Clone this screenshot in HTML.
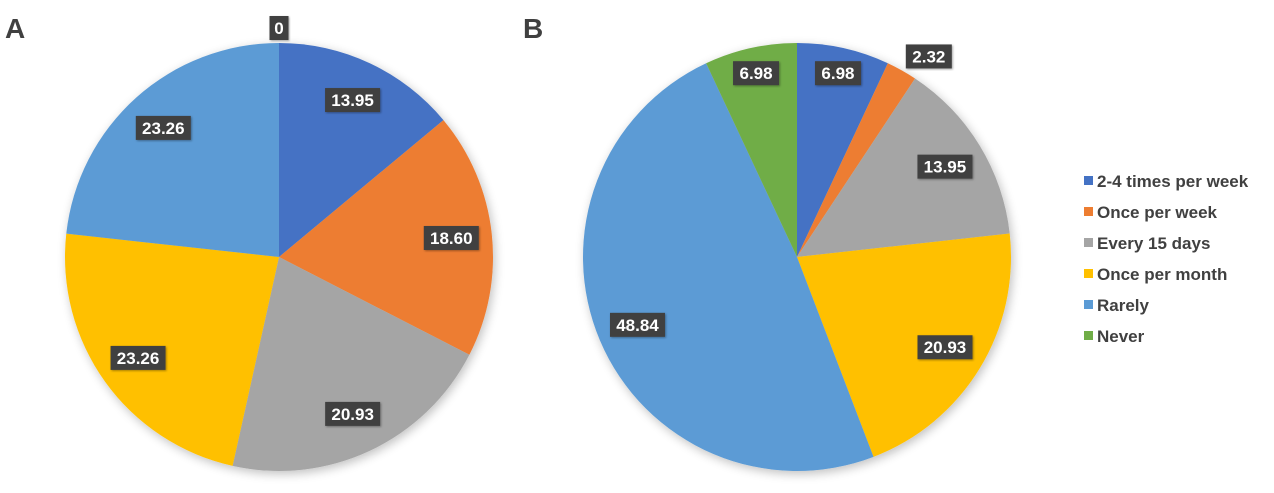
<!DOCTYPE html>
<html><head><meta charset="utf-8"><style>
body{margin:0;background:#fff;width:1274px;height:488px;overflow:hidden;font-family:"Liberation Sans",Arial,sans-serif}
</style></head><body>
<svg id="c" width="1274" height="488" xmlns="http://www.w3.org/2000/svg">
<defs><filter id="sh" x="-10%" y="-10%" width="120%" height="120%"><feGaussianBlur in="SourceAlpha" stdDeviation="5"/><feOffset dx="2" dy="3"/><feComponentTransfer><feFuncA type="linear" slope="0.25"/></feComponentTransfer><feMerge><feMergeNode/><feMergeNode in="SourceGraphic"/></feMerge></filter>
<filter id="ls"><feDropShadow dx="1" dy="1" stdDeviation="1" flood-opacity="0.35"/></filter></defs>
<text x="5" y="38" font-size="28" font-weight="bold" fill="#404040">A</text>
<text x="523" y="38" font-size="28" font-weight="bold" fill="#404040">B</text>
<g id="legend"></g>
</svg>
<script>
const categories=["2-4 times per week","Once per week","Every 15 days","Once per month","Rarely","Never"];
const colors=["#4472c4","#ed7d31","#a5a5a5","#ffc000","#5b9bd5","#70ad47"];
const valuesA=[13.95,18.60,20.93,23.26,23.26,0];
const valuesB=[6.98,2.32,13.95,20.93,48.84,6.98];
const labelsA=["13.95","18.60","20.93","23.26","23.26","0"];
const labelsB=["6.98","2.32","13.95","20.93","48.84","6.98"];
const NS="http://www.w3.org/2000/svg";
const svg=document.getElementById('c');
function pie(cx,cy,r,vals,labs,name){
  const g=document.createElementNS(NS,'g');
  
  
  g.setAttribute('filter','url(#sh)');
  svg.appendChild(g);
  const tot=vals.reduce((a,b)=>a+b,0);
  let a0=0;const lab=[];
  vals.forEach((v,i)=>{
    const a1=a0+v/tot*2*Math.PI;
    const pt=a=>[cx+r*Math.sin(a),cy-r*Math.cos(a)];
    if(v>0){
      const p=document.createElementNS(NS,'path');
      const [x0,y0]=pt(a0),[x1,y1]=pt(a1);
      p.setAttribute('d',`M${cx},${cy}L${x0},${y0}A${r},${r} 0 ${a1-a0>Math.PI?1:0} 1 ${x1},${y1}Z`);
      p.setAttribute('fill',colors[i]);
      
      
      g.appendChild(p);
    }
    const am=(a0+a1)/2;
    let d=v<3?r+26:(v<10?r*0.88:r*0.81);
    let ang=v<3&&v>0?am+0.07:am;
    if(v===0){ang=a0;d=r+15;}
    lab.push([cx+d*Math.sin(ang),cy-d*Math.cos(ang),labs[i],i]);
    a0=a1;
  });
  lab.forEach(([x,y,t,i])=>{
    const w=t.length*9+10;
    const gg=document.createElementNS(NS,'g');
    
    
    const rc=document.createElementNS(NS,'rect');
    rc.setAttribute('x',x-w/2);rc.setAttribute('y',y-12);rc.setAttribute('width',w);rc.setAttribute('height',24);
    rc.setAttribute('fill','#404040');rc.setAttribute('filter','url(#ls)');
    const tx=document.createElementNS(NS,'text');
    tx.setAttribute('x',x);tx.setAttribute('y',y+6);tx.setAttribute('text-anchor','middle');
    tx.setAttribute('font-size','17');tx.setAttribute('font-weight','bold');tx.setAttribute('fill','#fff');
    tx.textContent=t;
    gg.appendChild(rc);gg.appendChild(tx);svg.appendChild(gg);
  });
}
pie(279,257,214,valuesA,labelsA,'pie-a');
pie(797,257,214,valuesB,labelsB,'pie-b');
const lg=document.getElementById('legend');


categories.forEach((c,i)=>{
  const y=181+i*31;
  const g=document.createElementNS(NS,'g');
  
  
  const r=document.createElementNS(NS,'rect');
  r.setAttribute('x',1084);r.setAttribute('y',y-5);r.setAttribute('width',9);r.setAttribute('height',9);r.setAttribute('fill',colors[i]);
  const t=document.createElementNS(NS,'text');
  t.setAttribute('x',1097);t.setAttribute('y',y+6);t.setAttribute('font-size','17');t.setAttribute('font-weight','bold');t.setAttribute('fill','#404040');
  t.textContent=c;
  g.appendChild(r);g.appendChild(t);lg.appendChild(g);
});
</script>
</body></html>
